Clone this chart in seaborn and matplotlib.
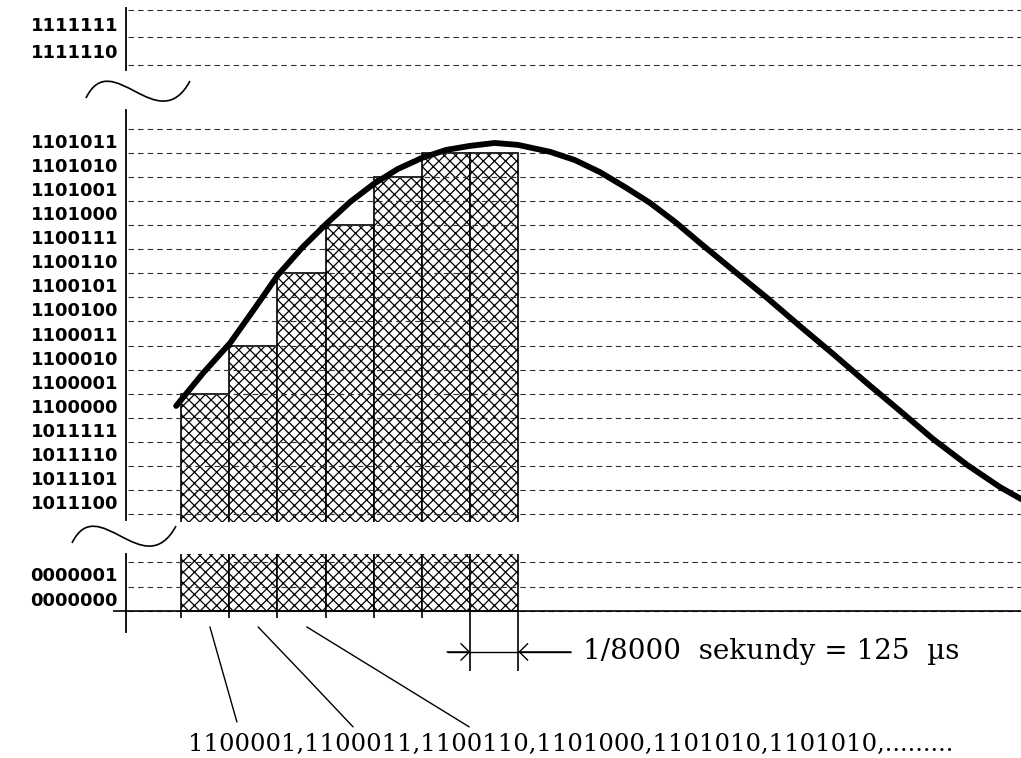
import matplotlib.pyplot as plt
import numpy as np
import pandas as pd
import seaborn as sns
from matplotlib.path import Path
from matplotlib.patches import PathPatch

# quantisation levels written on the y axis
top_codes = ["1111110", "1111111"]
main_codes = ["1011100", "1011101", "1011110", "1011111", "1100000", "1100001",
              "1100010", "1100011", "1100100", "1100101", "1100110", "1100111",
              "1101000", "1101001", "1101010", "1101011"]
bottom_codes = ["0000000", "0000001"]

# samples (bar heights in level units)
sample_idx = [0, 1, 2, 3, 4, 5, 6]
sample_level = [97, 99, 102, 104, 106, 107, 107]

# analog signal (sample index, level)
curve_t = [-0.60, -0.04, 0.52, 1.02, 1.51, 2.01, 2.51, 3.01, 3.50, 4.00, 4.50,
           5.00, 5.50, 6.01, 6.49, 7.16, 7.67, 8.19, 8.71, 9.23, 9.75, 10.27,
           10.95, 11.66, 12.34, 13.03, 13.73, 14.42, 15.10, 15.81, 16.49, 16.93]
curve_v = [96.49, 97.86, 99.11, 100.52, 101.93, 103.06, 104.05, 104.97, 105.72,
           106.34, 106.80, 107.13, 107.30, 107.42, 107.34, 107.05, 106.71,
           106.21, 105.59, 104.93, 104.14, 103.26, 102.14, 100.98, 99.81,
           98.65, 97.44, 96.28, 95.12, 94.04, 93.12, 92.62]

sequence_text = "1100001,1100011,1100110,1101000,1101010,1101010,........."
period_text = "1/8000  sekundy = 125  µs"

sns.set_style("white")
plt.rcParams["font.family"] = ["DejaVu Sans", "DejaVu Serif"]
plt.rcParams["text.color"] = "black"
plt.rcParams["ytick.color"] = "black"
plt.rcParams["hatch.linewidth"] = 0.9

W, H = 1021, 758
fig = plt.figure(figsize=(W / 100, H / 100), dpi=100)


def px_rect(left, top, right, bottom):
    return [left / W, 1 - bottom / H, (right - left) / W, (bottom - top) / H]


XSCALE = 48.2
XLIM = (-0.5 - (181 - 60) / XSCALE, -0.5 + (1021 - 181) / XSCALE)
X_AXIS = -0.5 - (181 - 126) / XSCALE
GRID_STYLE = dict(colors="#333333", linestyles=(0, (5, 3.6)), linewidth=0.8, zorder=3)

ax_top = fig.add_axes(px_rect(60, 8, 1021, 70))
ax_main = fig.add_axes(px_rect(60, 110, 1021, 522))
ax_bot = fig.add_axes(px_rect(60, 554, 1021, 758))


def setup(ax, codes, ylim, bounds):
    for s in ["top", "right", "bottom"]:
        ax.spines[s].set_visible(False)
    ax.spines["left"].set_position(("data", X_AXIS))
    ax.spines["left"].set_bounds(*bounds)
    ax.spines["left"].set_linewidth(1.3)
    ax.spines["left"].set_color("black")
    ax.set_xlim(*XLIM)
    ax.set_ylim(*ylim)
    ax.set_xticks([])
    ax.set_xlabel("")
    ax.set_ylabel("")
    levels = [int(c, 2) for c in codes]
    ax.set_yticks([v + 0.5 for v in levels])
    ax.set_yticklabels(codes, fontweight="bold", family="DejaVu Sans", color="black")
    ax.tick_params(axis="y", length=0, pad=5.8, labelsize=13)
    grid = sorted(set(levels + [v + 1 for v in levels]))
    ax.hlines(grid, X_AXIS + 0.04, XLIM[1], **GRID_STYLE)


df = pd.DataFrame({"sample": sample_idx, "level": sample_level})
bar_kw = dict(native_scale=True, width=1, color="white", edgecolor="black",
              linewidth=1.2, hatch="xxx", errorbar=None, zorder=2)

sns.barplot(data=df, x="sample", y="level", ax=ax_main, **bar_kw)
sns.lineplot(x=curve_t, y=curve_v, sort=False, color="black", linewidth=4.2,
             ax=ax_main, zorder=5, solid_capstyle="round", solid_joinstyle="round")
sns.barplot(data=df, x="sample", y="level", ax=ax_bot, **bar_kw)

setup(ax_top, top_codes, (125.82, 128.07), (125.82, 128.07))
setup(ax_main, main_codes, (91.667, 108.79), (91.75, 108.79))
setup(ax_bot, bottom_codes, (-6.0, 2.327), (-0.857, 2.327))

# x axis and sample ticks
edges = [i - 0.5 for i in sample_idx] + [sample_idx[-1] + 0.5]
ax_bot.hlines(0, -0.5 - (181 - 113) / XSCALE, XLIM[1], color="black", lw=1.2, zorder=4)
ax_bot.vlines(edges[:-2], -0.29, 0, color="black", lw=1.2)
ax_bot.vlines(edges[-2:], -2.45, 0, color="black", lw=1.2)

# sampling period dimension
yd = -1.67
ax_bot.hlines(yd, 5.02, 7.59, color="black", lw=1)
arrow = dict(arrowstyle="->,head_length=0.6,head_width=0.6", lw=1, color="black",
             shrinkA=0, shrinkB=0)
ax_bot.annotate("", xy=(edges[-2], yd), xytext=(5.02, yd), arrowprops=arrow)
ax_bot.annotate("", xy=(edges[-1], yd), xytext=(7.59, yd), arrowprops=arrow)
ax_bot.text(7.84, yd, period_text, fontsize=20, family="DejaVu Serif",
            va="center", ha="left")

# leader lines to the code sequence
ax_bot.plot([0.10, 0.66], [-0.65, -4.53], color="black", lw=1)
ax_bot.plot([1.10, 2.11, 3.07], [-0.65, -2.73, -4.73], color="black", lw=1)
ax_bot.plot([2.11, 5.48], [-0.65, -4.73], color="black", lw=1)
ax_bot.text(-0.355, -5.43, sequence_text, fontsize=17.5, family="DejaVu Serif",
            va="center", ha="left")


# axis break marks
def tilde(dx, dy):
    pts = [(86, 98), (112, 45), (158, 140), (190, 81)]
    verts = [((x + dx) / W, 1 - (y + dy) / H) for x, y in pts]
    path = Path(verts, [Path.MOVETO, Path.CURVE4, Path.CURVE4, Path.CURVE4])
    fig.add_artist(PathPatch(path, transform=fig.transFigure, fill=False,
                             lw=1.2, edgecolor="black"))


tilde(0, 0)
tilde(-14, 445)

fig.savefig("out.png", dpi=100)
